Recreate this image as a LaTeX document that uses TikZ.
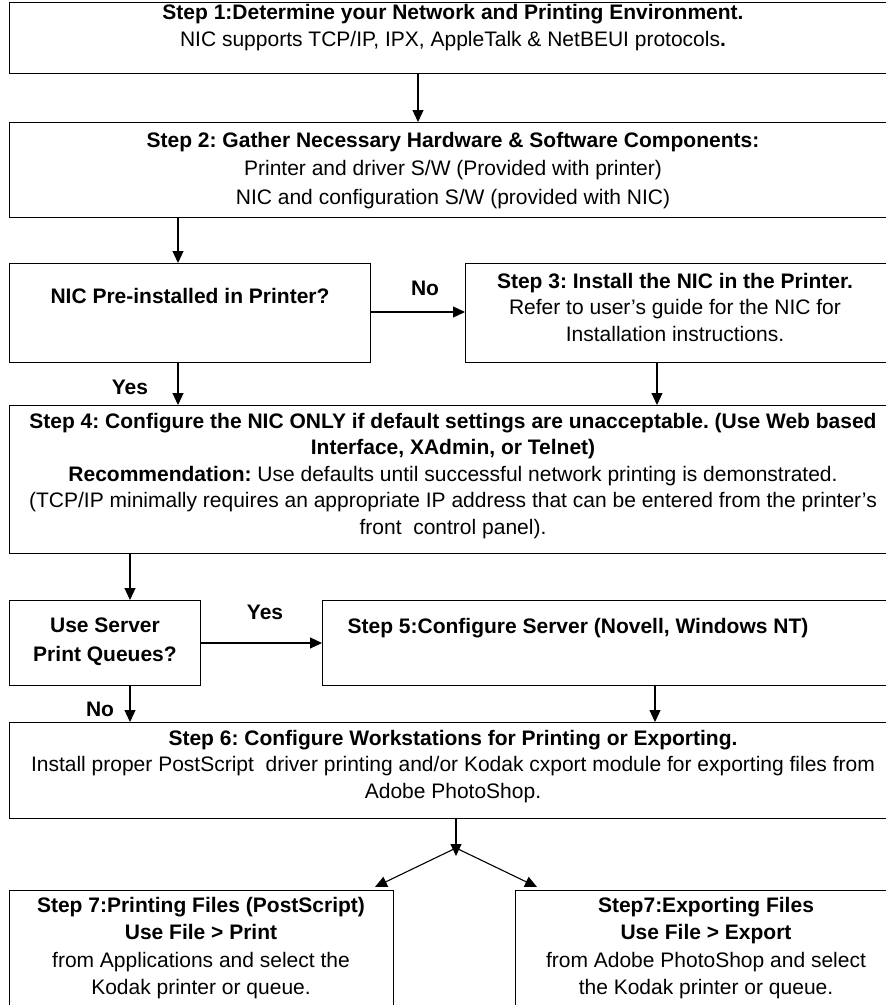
\documentclass[tikz,border=0pt]{standalone}
\usepackage{fontspec}
\setmainfont{Liberation Sans}
\usetikzlibrary{arrows.meta}
\frenchspacing
\begin{document}
\begin{tikzpicture}[x=1pt,y=-1pt,
  box/.style={draw, line width=1.3pt, inner sep=0pt, anchor=north west},
  txt/.style={inner sep=0pt, align=center, anchor=north, font=\fontsize{21}{26.5}\selectfont},
  txtw/.style={txt, font=\fontsize{21}{27.5}\selectfont},
  lbl/.style={inner sep=0pt, font=\fontsize{21}{26}\selectfont\bfseries},
  arr/.style={-{Triangle[length=12pt,width=11pt]}, line width=1.1pt}]
\useasboundingbox (0,0) rectangle (886,1005);
\clip (0,0) rectangle (886,1005);

% boxes
\node[box, minimum width=888pt, minimum height=71pt] (s1) at (9,2) {};
\node[box, minimum width=888pt, minimum height=95pt] (s2) at (9,122) {};
\node[box, minimum width=361pt, minimum height=99pt] (nic) at (9,263) {};
\node[box, minimum width=432pt, minimum height=99pt] (s3) at (465,263) {};
\node[box, minimum width=888pt, minimum height=148pt] (s4) at (9,405) {};
\node[box, minimum width=191pt, minimum height=85pt] (usq) at (9,600) {};
\node[box, minimum width=575pt, minimum height=85pt] (s5) at (322,600) {};
\node[box, minimum width=888pt, minimum height=96pt] (s6) at (9,722) {};
\node[box, minimum width=384pt, minimum height=130pt] (s7a) at (9,890) {};
\node[box, minimum width=382pt, minimum height=130pt] (s7b) at (515,890) {};

% texts
\node[txtw] (t1) at (453,4) {\textbf{Step 1:Determine your Network and Printing Environment.}\\
  NIC supports TCP/IP, IPX, AppleTalk \& NetBEUI protocols\textbf{.}};
\node[txt, font=\fontsize{21}{28.5}\selectfont] (t2) at (453,132) {\textbf{Step 2: Gather Necessary Hardware \& Software Components:}\\
  Printer and driver S/W (Provided with printer)\\
  NIC and configuration S/W (provided with NIC)};
\node[txt] (tnic) at (190,288) {\textbf{NIC Pre-installed in Printer?}};
\node[txt] (t3) at (675,273) {\textbf{Step 3: Install the NIC in the Printer.}\\
  Refer to user’s guide for the NIC for\\
  Installation instructions.};
\node[txt] (t4) at (453,413) {\textbf{Step 4: Configure the NIC ONLY if default settings are unacceptable. (Use Web based}\\
  \textbf{Interface, XAdmin, or Telnet)}\\
  \textbf{Recommendation:} Use defaults until successful network printing is demonstrated.\\
  (TCP/IP minimally requires an appropriate IP address that can be entered from the printer’s\\
  front\ \ control panel).};
\node[txt, font=\fontsize{21}{29}\selectfont] (tusq) at (105,618) {\textbf{Use Server}\\ \textbf{Print Queues?}};
\node[txt] (t5) at (578,618) {\textbf{Step 5:Configure Server (Novell, Windows NT)}};
\node[txt] (t6) at (453,730) {\textbf{Step 6: Configure Workstations for Printing or Exporting.}\\
  Install proper PostScript\ \ driver printing and/or Kodak cxport module for exporting files from\\
  Adobe PhotoShop.};
\node[txtw] (t7a) at (201,897) {\textbf{Step 7:Printing Files (PostScript)}\\
  \textbf{Use File > Print}\\
  from Applications and select the\\
  Kodak printer or queue.};
\node[txtw] (t7b) at (706,897) {\textbf{Step7:Exporting Files}\\
  \textbf{Use File > Export}\\
  from Adobe PhotoShop and select\\
  the Kodak printer or queue.};

% labels
\node[lbl] (lno1) at (425,288) {No};
\node[lbl] (lyes1) at (130,387) {Yes};
\node[lbl] (lyes2) at (265,612) {Yes};
\node[lbl] (lno2) at (100,709) {No};

% connector reference points
\coordinate (xa) at (418,0);
\coordinate (xb) at (178,0);
\coordinate (xc) at (657,0);
\coordinate (xd) at (130,0);
\coordinate (xe) at (655,0);
\coordinate (ya) at (0,312);
\coordinate (yb) at (0,643);
\coordinate (splittip) at (456,856);
\coordinate (split) at (456,848);
\coordinate (tipL) at (375,887);
\coordinate (tipR) at (537,887);

% connectors
\draw[arr] (s1.south -| xa) -- (s2.north -| xa);
\draw[arr] (s2.south -| xb) -- (nic.north -| xb);
\draw[arr] (nic.east |- ya) -- (s3.west |- ya);
\draw[arr] (nic.south -| xb) -- (s4.north -| xb);
\draw[arr] (s3.south -| xc) -- (s4.north -| xc);
\draw[arr] (s4.south -| xd) -- (usq.north -| xd);
\draw[arr] (usq.east |- yb) -- (s5.west |- yb);
\draw[arr] (usq.south -| xd) -- (s6.north -| xd);
\draw[arr] (s5.south -| xe) -- (s6.north -| xe);
\draw[arr] (s6.south -| splittip) -- (splittip);
\draw[arr] (split) -- (tipL);
\draw[arr] (split) -- (tipR);
\end{tikzpicture}
\end{document}
